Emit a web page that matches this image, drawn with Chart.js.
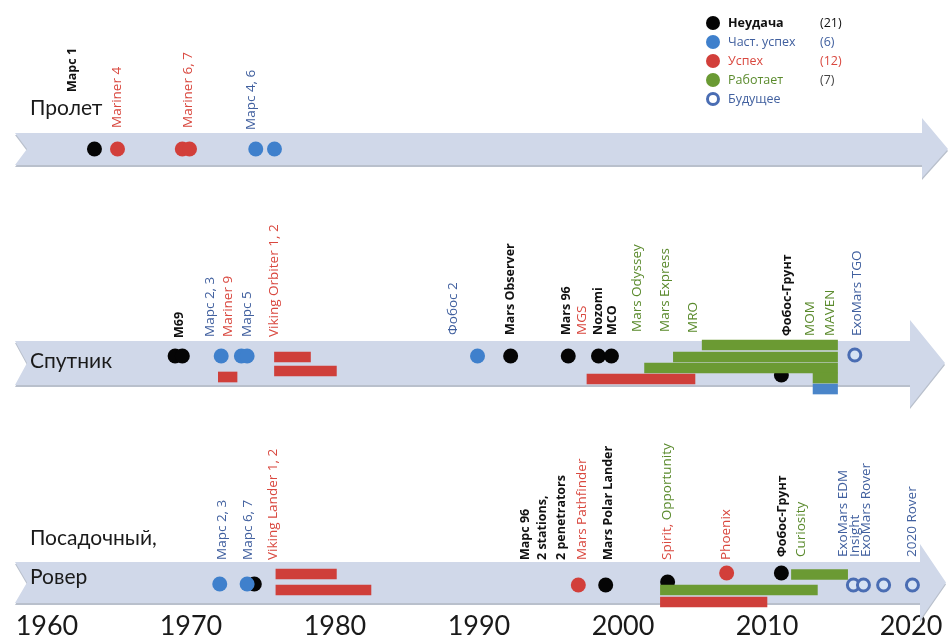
<!DOCTYPE html>
<html><head><meta charset="utf-8">
<script src="https://cdn.jsdelivr.net/npm/chart.js@4.4.0/dist/chart.umd.min.js"></script>
<style>html,body{margin:0;padding:0;background:#fff}#wrap{width:949px;height:643px}</style>
</head><body><div id="wrap"><canvas id="c" width="949" height="643"></canvas></div>
<script>
// ---- axis ----
const yearTicks = [1960, 1970, 1980, 1990, 2000, 2010, 2020];

// ---- rows (track units) ----
const rowTitles = ['Пролет', 'Спутник', 'Посадочный,', 'Ровер'];
const rowTitleY = [11.5, 36.8, 54.5, 58.4];

// ---- points: x = year, y = track ----
const failX    = [1963.3, 1968.9, 1969.4, 1992.2, 1996.2, 1998.3, 1999.2, 2011.0, 1974.4, 1998.8, 2003.1, 2011.0];
const failY    = [14.9,   35.6,   35.6,   35.6,   35.6,   35.6,   35.6,   37.5,   58.4,   58.5,   58.2,   57.3];
const partialX = [1974.5, 1975.8, 1972.1, 1973.5, 1973.9, 1989.9, 1972.0, 1973.9];
const partialY = [14.9,   14.9,   35.6,   35.6,   35.6,   35.6,   58.4,   58.4];
const successX = [1964.9, 1969.4, 1969.9, 1996.9, 2007.2];
const successY = [14.9,   14.9,   14.9,   58.5,   57.3];
const futureX  = [2016.1, 2016.0, 2016.7, 2018.1, 2020.1];
const futureY  = [35.5,   58.5,   58.5,   58.5,   58.5];

// ---- bars: start year, end year, track ----
const successStart = [1971.9, 1975.8, 1975.8, 1997.5, 1975.9, 1975.9, 2002.6];
const successEnd   = [1973.2, 1978.3, 1980.1, 2005.0, 1980.1, 1982.5, 2010.0];
const successLane  = [37.7,   35.7,   37.1,   37.9,   57.4,   59.0,   60.2];
const workingStart = [2005.5, 2003.5, 2001.5, 2013.2, 2002.6, 2011.7];
const workingEnd   = [2014.9, 2014.9, 2014.9, 2014.9, 2013.5, 2015.6];
const workingLane  = [34.5,   35.7,   36.8,   37.8,   59.0,   57.45];
const partialStart = [2013.2];
const partialEnd   = [2014.9];
const partialLane  = [38.9];

// ---- legend ----
const legendKinds  = ['fail', 'partial', 'success', 'working', 'future'];
const legendNames  = ['Неудача', 'Част. успех', 'Успех', 'Работает', 'Будущее'];
const legendCounts = ['(21)', '(6)', '(12)', '(7)', ''];

// ---- mission labels: text (or parts), year, bottom track, kind ----
const flybyLabels = [
  ['Марс 1', 1961.8, 9.2, 'fail'],
  ['Mariner 4', 1964.9, 12.8, 'success'],
  ['Mariner 6, 7', 1969.8, 12.8, 'success'],
  ['Марс 4, 6', 1974.2, 13.0, 'partial']
];
const orbiterLabels = [
  ['М69', 1969.2, 33.8, 'fail'],
  ['Марс 2, 3', 1971.3, 33.7, 'partial'],
  ['Mariner 9', 1972.6, 33.7, 'success'],
  ['Марс 5', 1973.9, 33.7, 'partial'],
  ['Viking Orbiter 1, 2', 1975.8, 33.7, 'success'],
  ['Фобос 2', 1988.2, 33.5, 'partial'],
  ['Mars Observer', 1992.2, 33.5, 'fail'],
  ['Mars 96', 1996.1, 33.5, 'fail'],
  ['MGS', 1997.2, 33.5, 'success'],
  ['Nozomi', 1998.3, 33.5, 'fail'],
  ['MCO', 1999.3, 33.5, 'fail'],
  ['Mars Odyssey', 2001.0, 33.2, 'working'],
  ['Mars Express', 2002.9, 33.2, 'working'],
  ['MRO', 2004.9, 33.3, 'working'],
  ['Фобос-Грунт', 2011.4, 33.6, 'fail'],
  ['MOM', 2013.0, 33.6, 'working'],
  ['MAVEN', 2014.4, 33.6, 'working'],
  ['ExoMars TGO', 2016.25, 33.6, 'future']
];
const landerLabels = [
  ['Марс 2, 3', 1972.2, 56.0, 'partial'],
  ['Марс 6, 7', 1974.0, 56.0, 'partial'],
  ['Viking Lander 1, 2', 1975.7, 56.0, 'success'],
  ['Марс 96', 1993.2, 56.0, 'fail'],
  ['2 stations,', 1994.4, 56.0, 'fail'],
  ['2 penetrators', 1995.7, 56.0, 'fail'],
  ['Mars Pathfinder', 1997.2, 56.0, 'success'],
  ['Mars Polar Lander', 1999.0, 56.0, 'fail'],
  [[['Spirit,', 'success'], [' Opportunity', 'working']], 2003.1, 56.0, 'success'],
  ['Phoenix', 2007.2, 56.0, 'success'],
  ['Фобос-Грунт', 2011.1, 55.7, 'fail'],
  ['Curiosity', 2012.4, 55.7, 'working'],
  ['ExoMars EDM', 2015.3, 55.7, 'future'],
  ['Insight', 2016.1, 55.7, 'future'],
  ['ExoMars Rover', 2016.9, 55.7, 'future'],
  ['2020 Rover', 2020.1, 55.7, 'future']
];

// ---- styles ----
const DOT = {fail:'#050505', partial:'#3f80cc', success:'#d23f3a', working:'#6a9a33', future:'#4a6db3'};
const TXT = {fail:'#111111', partial:'#41609f', success:'#d9483f', working:'#5a8a2c', future:'#41609f'};
const BAR = {success:'#cf3f3a', working:'#6b9a33', partial:'#4a85c9'};

function pts(xs, ys){ return xs.map((x,i)=>({x:x, y:ys[i]})); }
function bars(s, e, l){ return s.map((v,i)=>({x:[v, e[i]], y:l[i]})); }

const bandsPlugin = {
  id:'bands',
  beforeDatasetsDraw(chart){
    const ctx = chart.ctx, ys = chart.scales.y;
    const bands = [
      {top:13.3, bottom:16.5, hTop:11.8, hBot:17.8, hx:922, tip:948},
      {top:34.1, bottom:38.5, hTop:32.0, hBot:40.7, hx:910, tip:945},
      {top:56.2, bottom:60.3, hTop:54.4, hBot:62.0, hx:920, tip:946}
    ];
    ctx.save();
    bands.forEach(b=>{
      const t = ys.getPixelForValue(b.top), bt = ys.getPixelForValue(b.bottom);
      const ht = ys.getPixelForValue(b.hTop), hb = ys.getPixelForValue(b.hBot);
      const m = (t+bt)/2, L = 15, N = 27;
      ctx.fillStyle = '#b9c0cc';
      ctx.beginPath();
      ctx.moveTo(L, t+2); ctx.lineTo(b.hx, t+2); ctx.lineTo(b.hx, ht+2); ctx.lineTo(b.tip, m+2);
      ctx.lineTo(b.hx, hb+2); ctx.lineTo(b.hx, bt+2); ctx.lineTo(L, bt+2); ctx.lineTo(N, m+2); ctx.closePath();
      ctx.fill();
      ctx.fillStyle = '#d0d8e9';
      ctx.beginPath();
      ctx.moveTo(L, t); ctx.lineTo(b.hx, t); ctx.lineTo(b.hx, ht); ctx.lineTo(b.tip, m);
      ctx.lineTo(b.hx, hb); ctx.lineTo(b.hx, bt); ctx.lineTo(L, bt); ctx.lineTo(N, m); ctx.closePath();
      ctx.fill();
    });
    ctx.fillStyle = '#1a1a1a';
    ctx.font = '21px Lato';
    ctx.textAlign = 'left'; ctx.textBaseline = 'alphabetic';
    rowTitles.forEach((t,i)=> ctx.fillText(t, 30, ys.getPixelForValue(rowTitleY[i])));
    ctx.restore();
  }
};

const labelsPlugin = {
  id:'labels',
  afterDatasetsDraw(chart){
    const ctx = chart.ctx, xs = chart.scales.x, ys = chart.scales.y;
    ctx.save();
    const all = flybyLabels.concat(orbiterLabels, landerLabels);
    all.forEach(([text, yr, bot, kind])=>{
      const px = xs.getPixelForValue(yr), py = ys.getPixelForValue(bot);
      const parts = Array.isArray(text) ? text : [[text, kind]];
      ctx.save();
      ctx.translate(px, py);
      ctx.rotate(-Math.PI/2);
      ctx.textAlign = 'left'; ctx.textBaseline = 'middle';
      let off = 0;
      parts.forEach(([s, k])=>{
        ctx.font = (k === 'fail' ? 'bold 12.5px' : '13.5px') + ' "Open Sans"';
        ctx.fillStyle = TXT[k];
        ctx.fillText(s, off, 0);
        off += ctx.measureText(s).width;
      });
      ctx.restore();
    });
    legendKinds.forEach((k,i)=>{
      const cy = 23 + 19*i;
      ctx.beginPath();
      ctx.arc(713, cy, k === 'future' ? 5.5 : 7, 0, Math.PI*2);
      if (k === 'future') {
        ctx.fillStyle = '#ffffff'; ctx.fill();
        ctx.lineWidth = 3; ctx.strokeStyle = DOT.future; ctx.stroke();
      } else { ctx.fillStyle = DOT[k]; ctx.fill(); }
      ctx.font = (k === 'fail' ? 'bold ' : '') + '12.5px "Open Sans"';
      ctx.textAlign = 'left'; ctx.textBaseline = 'middle';
      ctx.fillStyle = TXT[k];
      ctx.fillText(legendNames[i], 728, cy);
      ctx.fillStyle = k === 'working' ? '#444' : TXT[k];
      ctx.font = '12.5px "Open Sans"';
      ctx.fillText(legendCounts[i], 820, cy);
    });
    ctx.restore();
  }
};

const pointBase = {type:'scatter', pointRadius:7.5, pointHoverRadius:7.5, borderWidth:0, clip:false};
const barBase = {type:'bar', indexAxis:'y', barThickness:10, grouped:false, borderWidth:0, clip:false, order:5};

new Chart(document.getElementById('c'), {
  type:'scatter',
  data:{ datasets:[
    Object.assign({}, pointBase, {label:'Неудача', data:pts(failX, failY), backgroundColor:DOT.fail, order:10}),
    Object.assign({}, barBase, {label:'Успех (работа)', data:bars(successStart, successEnd, successLane), backgroundColor:BAR.success}),
    Object.assign({}, barBase, {label:'Работает', data:bars(workingStart, workingEnd, workingLane), backgroundColor:BAR.working}),
    Object.assign({}, barBase, {label:'Част. успех (работа)', data:bars(partialStart, partialEnd, partialLane), backgroundColor:BAR.partial}),
    Object.assign({}, pointBase, {label:'Част. успех', data:pts(partialX, partialY), backgroundColor:DOT.partial, order:1}),
    Object.assign({}, pointBase, {label:'Успех', data:pts(successX, successY), backgroundColor:DOT.success, order:1}),
    Object.assign({}, pointBase, {label:'Будущее', data:pts(futureX, futureY), pointRadius:6, backgroundColor:'#d6e3f4', borderColor:DOT.future, borderWidth:3, order:1})
  ]},
  options:{
    responsive:false, animation:false, events:[],
    layout:{padding:0, autoPadding:false},
    plugins:{legend:{display:false}, tooltip:{enabled:false}},
    scales:{
      x:{type:'linear', min:1956.74, max:2022.64, offset:false,
         grid:{display:false}, border:{display:false},
         ticks:{font:{size:27, family:'Lato'}, color:'#1a1a1a', padding:-8, autoSkip:false, maxRotation:0,
                callback:(v)=>String(v)},
         afterBuildTicks:(s)=>{ s.ticks = yearTicks.map(v=>({value:v})); },
         afterFit:(s)=>{ s.height = 33; }},
      y:{type:'linear', display:false, reverse:true, min:0, max:61.0, offset:false}
    }
  },
  plugins:[bandsPlugin, labelsPlugin]
});
</script></body></html>
